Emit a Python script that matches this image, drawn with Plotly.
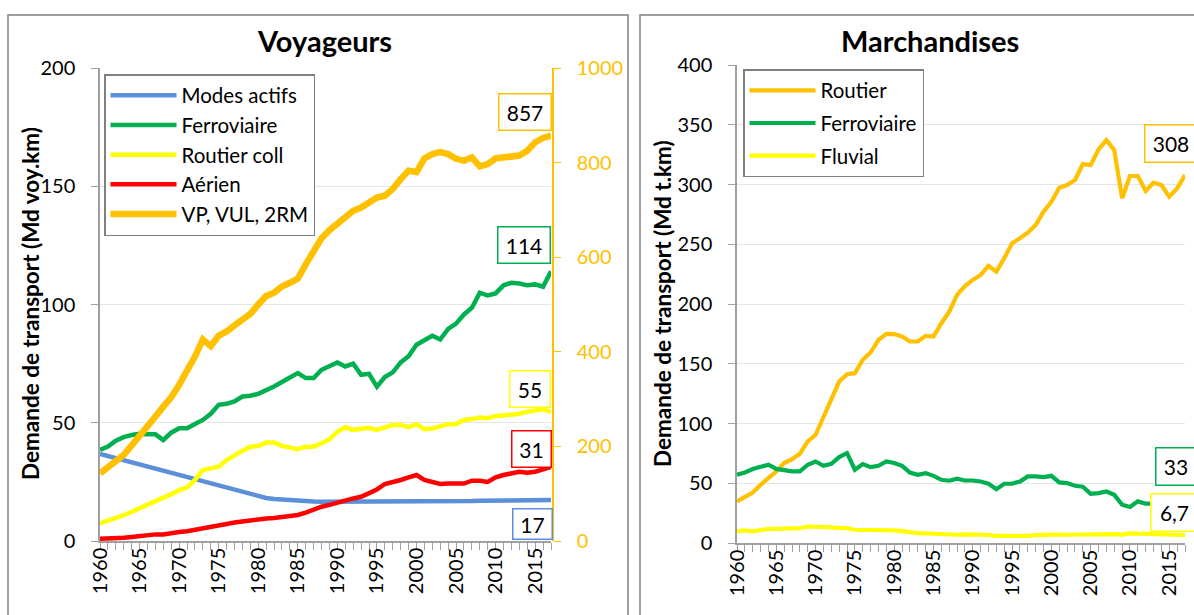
import plotly.graph_objects as go

years = list(range(1960, 2018))

# --- Voyageurs (Md voy.km) ---
modes_actifs = [36.8, 35.9, 35.0, 34.1, 33.3, 32.4, 31.5, 30.6, 29.7, 28.8,
                27.9, 27.0, 26.1, 25.2, 24.4, 23.5, 22.6, 21.7, 20.8, 19.9,
                19.0, 18.2, 17.8, 17.5, 17.2, 17.0, 16.8, 16.7, 16.6, 16.6,
                16.5, 16.5, 16.5, 16.5, 16.5, 16.5, 16.6, 16.6, 16.6, 16.7,
                16.7, 16.7, 16.8, 16.8, 16.8, 16.9, 16.9, 16.9, 17.0, 17.0,
                17.1, 17.1, 17.1, 17.2, 17.2, 17.2, 17.3, 17.3]
ferro_voy = [38.5, 39.9, 42.4, 43.9, 44.8, 45.3, 45.1, 45.1, 42.7, 45.8,
             47.7, 47.7, 49.5, 51.2, 53.8, 57.6, 58.0, 59.0, 61.1, 61.4,
             62.2, 63.6, 65.3, 67.2, 69.3, 71.0, 68.9, 68.9, 72.4, 74.0,
             75.5, 73.8, 75.0, 70.3, 70.7, 65.3, 69.3, 71.3, 75.5, 78.1,
             83.0, 84.9, 86.8, 85.2, 89.7, 91.9, 95.8, 98.6, 105.0, 103.8,
             104.7, 108.1, 109.2, 108.9, 108.1, 108.5, 107.5, 114.0]
routier_coll = [7.4, 8.4, 9.5, 10.9, 12.3, 13.7, 15.1, 16.5, 18.2, 19.8,
                21.5, 22.6, 25.8, 30.0, 30.7, 31.4, 34.2, 36.4, 38.2, 39.9,
                40.2, 41.6, 41.6, 40.2, 39.5, 38.8, 39.9, 39.9, 41.3, 43.0,
                46.2, 48.1, 47.0, 47.3, 47.9, 47.0, 48.1, 49.1, 49.1, 48.1,
                49.4, 47.3, 47.6, 48.4, 49.4, 49.5, 51.2, 51.6, 52.2, 51.9,
                52.9, 53.1, 53.3, 53.8, 54.7, 55.4, 55.7, 54.6]
aerien = [1.0, 1.0, 1.3, 1.4, 1.7, 2.1, 2.7, 2.8, 2.8, 3.4,
          3.8, 4.1, 4.8, 5.5, 6.2, 6.6, 7.2, 7.8, 8.3, 8.7,
          9.2, 9.5, 9.7, 10.2, 10.5, 11.0, 12.0, 13.3, 14.5, 15.3,
          16.3, 17.3, 18.0, 18.7, 20.4, 21.8, 24.1, 24.8, 25.8, 26.9,
          27.9, 25.8, 25.0, 24.1, 24.3, 24.3, 24.3, 25.5, 25.5, 25.0,
          26.9, 27.9, 28.6, 29.3, 28.9, 29.3, 30.3, 31.3]
vp_vul_2rm = [143, 157, 168, 182, 202, 221, 241, 263, 284, 304,
              330, 359, 390, 426, 412, 434, 443, 456, 468, 480,
              500, 518, 525, 538, 546, 555, 585, 610, 640, 657,
              670, 684, 698, 705, 716, 726, 730, 744, 765, 783,
              780, 809, 818, 822, 818, 808, 804, 811, 792, 797,
              809, 811, 811, 815, 825, 843, 852, 857]

# --- Marchandises (Md t.km) ---
routier = [34.8, 38.5, 42.3, 48.7, 54.3, 59.9, 66.9, 70.2, 74.7, 85.0,
           90.6, 105.9, 121.2, 135.1, 141.3, 142.1, 153.3, 159.4, 170.0, 175.0,
           174.8, 172.8, 168.6, 168.6, 173.3, 172.8, 183.9, 193.6, 207.6, 215.0,
           220.2, 224.3, 231.9, 227.1, 238.3, 250.8, 255.0, 259.7, 266.1, 277.3,
           285.6, 297.3, 299.6, 303.8, 317.1, 316.3, 329.4, 337.2, 328.8, 288.5,
           307.1, 307.1, 294.6, 301.5, 299.6, 289.8, 296.8, 308.0]
ferro_fret = [57.1, 59.0, 61.9, 63.5, 65.5, 62.0, 60.7, 60.0, 60.0, 65.5,
              68.2, 64.6, 66.3, 71.9, 75.2, 61.3, 66.0, 63.5, 64.6, 68.2,
              66.9, 64.6, 59.0, 57.1, 58.5, 56.2, 52.9, 52.1, 53.8, 52.3,
              52.3, 51.5, 49.6, 45.1, 49.6, 49.6, 51.5, 55.7, 55.7, 55.2,
              56.2, 50.7, 50.1, 47.9, 47.1, 41.2, 41.8, 43.1, 40.3, 32.0,
              30.1, 34.8, 32.9, 32.6, 32.9, 34.8, 32.9, 33.4]
fluvial = [9.7, 10.5, 9.7, 11.1, 11.9, 11.9, 11.9, 12.2, 12.4, 13.8,
           13.3, 13.0, 13.0, 12.7, 12.4, 11.1, 11.1, 10.5, 10.5, 10.8,
           10.5, 9.9, 8.8, 8.3, 8.0, 7.7, 7.5, 6.9, 6.9, 7.2,
           7.2, 7.0, 6.7, 6.0, 5.9, 5.9, 5.8, 6.0, 6.6, 7.0,
           7.3, 7.0, 6.9, 7.0, 7.6, 7.9, 7.5, 7.5, 7.4, 7.1,
           8.0, 7.9, 7.8, 7.8, 7.6, 7.4, 6.8, 6.7]

ORANGE = "#FFC000"
GREEN = "#00B050"
YELLOW = "#FFFF00"
RED = "#FF0000"
BLUE = "#5B8FD8"
GRAY = "#A0A0A0"
FONT = "Lato"

W, H = 1194, 615

def px_x(p):
    return p / W

def px_y(p):
    return 1 - p / H

fig = go.Figure()

left_series = [
    ("Modes actifs", modes_actifs, BLUE, 4.5, "y"),
    ("Ferroviaire", ferro_voy, GREEN, 4.5, "y"),
    ("Routier coll", routier_coll, YELLOW, 4.5, "y"),
    ("Aérien", aerien, RED, 4.5, "y"),
    ("VP, VUL, 2RM", vp_vul_2rm, ORANGE, 6.5, "y2"),
]
for name, vals, col, w, ya in left_series:
    fig.add_trace(go.Scatter(
        x=years, y=vals, name=name, mode="lines",
        line=dict(color=col, width=w, shape="linear"),
        xaxis="x", yaxis=ya, legend="legend", legendgroup="L" + name,
    ))

right_series = [
    ("Routier", routier, ORANGE),
    ("Ferroviaire", ferro_fret, GREEN),
    ("Fluvial", fluvial, YELLOW),
]
for name, vals, col in right_series:
    fig.add_trace(go.Scatter(
        x=years, y=vals, name=name, mode="lines",
        line=dict(color=col, width=4.2),
        xaxis="x2", yaxis="y3", legend="legend2", legendgroup="R" + name,
    ))

xcommon = dict(
    range=[1960, 2017], tickmode="linear", tick0=1960, dtick=5,
    ticks="outside", ticklen=7, tickcolor=GRAY, tickwidth=1.2,
    showline=True, linecolor=GRAY, linewidth=1.5,
    tickangle=-90, tickfont=dict(family=FONT, size=20, color="#000000"),
    minor=dict(ticks="outside", ticklen=7, dtick=1, tick0=1960,
               tickcolor=GRAY, tickwidth=1.2, showgrid=False),
    showgrid=False, zeroline=False, ticklabelstandoff=-10, fixedrange=True,
    automargin=False,
)
ycommon = dict(
    ticks="outside", ticklen=7, tickcolor=GRAY, tickwidth=1.2,
    showline=True, linecolor=GRAY, linewidth=1.5,
    showgrid=True, gridcolor="#E6E6E6", gridwidth=1.2,
    tickfont=dict(family=FONT, size=20, color="#000000"),
    zeroline=False, ticklabelstandoff=12, fixedrange=True,
    automargin=False,
)

fig.update_layout(
    width=W, height=H, autosize=False,
    margin=dict(l=0, r=0, t=0, b=0, pad=0, autoexpand=False),
    paper_bgcolor="white", plot_bgcolor="white",
    font=dict(family=FONT, size=20, color="#000000"),
    xaxis=dict(domain=[px_x(100), px_x(551)], anchor="y", **xcommon),
    yaxis=dict(domain=[px_y(541), px_y(68)], anchor="x", range=[0, 200],
               dtick=50, **ycommon),
    yaxis2=dict(overlaying="y", side="right", anchor="free",
                position=px_x(553), range=[0, 1000], dtick=200,
                showline=True, linecolor=ORANGE, linewidth=1.5,
                ticks="outside", ticklen=7, tickcolor=ORANGE,
                showgrid=False, zeroline=False, ticklabelstandoff=12,
                tickfont=dict(family=FONT, size=20, color=ORANGE),
                fixedrange=True, automargin=False),
    xaxis2=dict(domain=[px_x(737), px_x(1185)], anchor="y3", **xcommon),
    yaxis3=dict(domain=[px_y(543), px_y(65)], anchor="x2", range=[0, 400],
                dtick=50, **ycommon),
    legend=dict(x=px_x(104), y=px_y(74), xanchor="left", yanchor="top",
                bgcolor="white", bordercolor="#808080", borderwidth=1.5,
                font=dict(family=FONT, size=20.5, color="#000000"),
                tracegroupgap=0, itemwidth=66),
    legend2=dict(x=px_x(743), y=px_y(69), xanchor="left", yanchor="top",
                 bgcolor="white", bordercolor="#808080", borderwidth=1.5,
                 font=dict(family=FONT, size=20.5, color="#000000"),
                 tracegroupgap=3, itemwidth=66),
    showlegend=True,
)

# chart frames
fig.add_shape(type="rect", xref="paper", yref="paper",
              x0=px_x(8), x1=px_x(628), y0=-0.2, y1=px_y(15),
              line=dict(color="#7F7F7F", width=1.5), layer="below")
fig.add_shape(type="rect", xref="paper", yref="paper",
              x0=px_x(640), x1=1.2, y0=-0.2, y1=px_y(15),
              line=dict(color="#7F7F7F", width=1.5), layer="below")

# titles
fig.add_annotation(text="<b>Voyageurs</b>", xref="paper", yref="paper",
                   x=px_x(324), y=px_y(40), xanchor="center", yanchor="middle",
                   showarrow=False, font=dict(family=FONT, size=29, color="#000000"))
fig.add_annotation(text="<b>Marchandises</b>", xref="paper", yref="paper",
                   x=px_x(930), y=px_y(40), xanchor="center", yanchor="middle",
                   showarrow=False, font=dict(family=FONT, size=29, color="#000000"))
fig.add_annotation(text="<b>Demande de transport (Md voy.km)</b>", xref="paper",
                   yref="paper", x=px_x(30), y=px_y(304), textangle=-90,
                   xanchor="center", yanchor="middle", showarrow=False,
                   font=dict(family=FONT, size=22.5, color="#000000"))
fig.add_annotation(text="<b>Demande de transport (Md t.km)</b>", xref="paper",
                   yref="paper", x=px_x(662), y=px_y(304), textangle=-90,
                   xanchor="center", yanchor="middle", showarrow=False,
                   font=dict(family=FONT, size=22.5, color="#000000"))

# data labels (last values)
def label(text, xr, yr, x, y, col, w, h):
    fig.add_annotation(text=text, xref=xr, yref=yr, x=x, y=y,
                       xanchor="center", yanchor="middle", showarrow=False,
                       bgcolor="white", bordercolor=col, borderwidth=1.5,
                       borderpad=2, width=w, height=h,
                       font=dict(family=FONT, size=21, color="#000000"))

label(f"{vp_vul_2rm[-1]:.0f}", "x", "y2", 2013.67, 907, ORANGE, 47, 31)
label(f"{ferro_voy[-1]:.0f}", "x", "y", 2013.6, 125.0, GREEN, 47, 31)
label(f"{routier_coll[-1]:.0f}", "x", "y", 2014.4, 64.2, YELLOW, 35, 31)
label(f"{aerien[-1]:.0f}", "x", "y", 2014.5, 38.9, RED, 34, 31)
label(f"{modes_actifs[-1]:.0f}", "x", "y", 2014.7, 7.1, BLUE, 34, 25)
label(f"{routier[-1]:.0f}", "x2", "y3", 2015.2, 334.4, ORANGE, 47, 32)
label(f"{ferro_fret[-1]:.0f}", "x2", "y3", 2015.9, 64.0, GREEN, 35, 32)
label(f"{fluvial[-1]:.1f}".replace(".", ","), "x2", "y3", 2015.6, 25.3, YELLOW, 42, 32)

fig.write_html(
    "out.html",
    config={"displayModeBar": False},
    post_script="document.body.style.margin='0';document.body.style.overflow='hidden';",
)
